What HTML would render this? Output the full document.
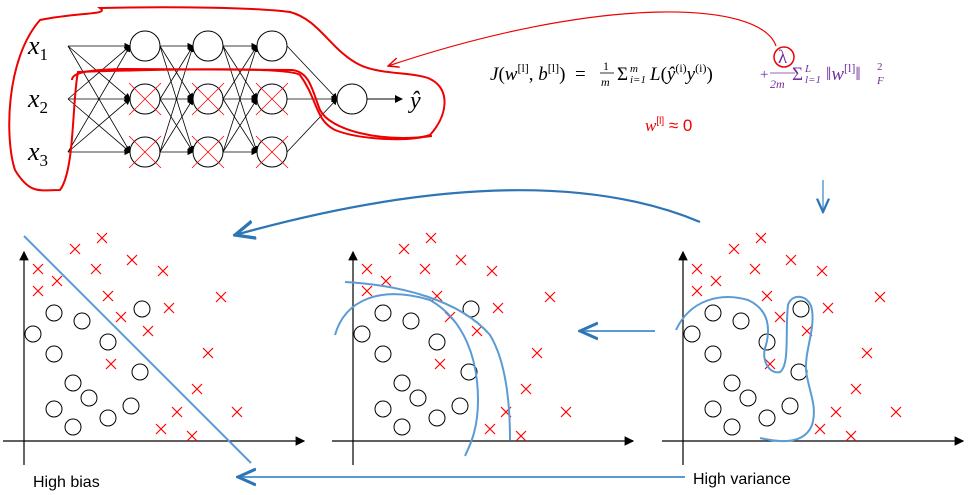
<!DOCTYPE html>
<html><head><meta charset="utf-8"><style>
body{margin:0;background:#fff;width:970px;height:495px;overflow:hidden}
svg{display:block;font-family:"Liberation Sans",sans-serif}
</style></head><body>
<svg id="s" width="970" height="495" viewBox="0 0 970 495">
<defs>
<marker id="ak" markerWidth="8" markerHeight="8" refX="7" refY="4" orient="auto"><path d="M0,0 L8,4 L0,8z" fill="#000"/></marker>
<marker id="ab" markerWidth="10" markerHeight="10" refX="9" refY="5" orient="auto"><path d="M0,1 L9,5 L0,9" fill="none" stroke="#2e75b6" stroke-width="1.5"/></marker>
<marker id="ar" markerWidth="10" markerHeight="10" refX="9" refY="5" orient="auto"><path d="M0,1 L9,5 L0,9" fill="none" stroke="#e00" stroke-width="1.2"/></marker>
</defs>
<g id="net"></g>
<path d="M40,20 C80,12 110,15 100,8 C180,6 260,8 290,12 C320,20 330,50 360,65 C380,75 420,72 432,80 C450,90 448,115 430,135 C410,142 360,140 335,130 C315,120 318,100 300,75 C290,68 200,68 78,72 C72,100 75,170 60,190 C40,190 30,195 15,170 C5,140 5,60 40,20Z" fill="none" stroke="#e00" stroke-width="2"/>
<g font-family="Liberation Serif,serif" font-size="19">
<text x="490" y="80"><tspan font-style="italic">J</tspan>(<tspan font-style="italic">w</tspan><tspan font-size="12" dy="-8">[l]</tspan><tspan dy="8">, </tspan><tspan font-style="italic">b</tspan><tspan font-size="12" dy="-8">[l]</tspan><tspan dy="8">)</tspan></text>
<text x="575" y="80">=</text>
<text x="603" y="70" font-size="12">1</text><line x1="600" y1="73" x2="614" y2="73" stroke="#000" stroke-width="0.8"/><text x="601" y="86" font-size="12" font-style="italic">m</text>
<text x="617" y="80">Σ</text><text x="630" y="72" font-size="11" font-style="italic">m</text><text x="630" y="83" font-size="11" font-style="italic">i=1</text>
<text x="650" y="80"><tspan font-style="italic">L</tspan>(<tspan font-style="italic">ŷ</tspan><tspan font-size="12" dy="-8">(i)</tspan><tspan dy="8" font-style="italic">y</tspan><tspan font-size="12" dy="-8">(i)</tspan><tspan dy="8">)</tspan></text>
</g>
<g font-family="Liberation Serif,serif" fill="#7030a0" font-size="19">
<text x="760" y="79" font-size="15">+</text>
<text x="778" y="63">λ</text>
<line x1="770" y1="73" x2="795" y2="73" stroke="#7030a0" stroke-width="0.8"/>
<text x="770" y="88" font-size="12" font-style="italic">2m</text>
<text x="792" y="80">Σ</text><text x="805" y="72" font-size="11" font-style="italic">L</text><text x="805" y="83" font-size="11" font-style="italic">l=1</text>
<text x="826" y="80">‖<tspan font-style="italic">w</tspan><tspan font-size="12" dy="-8">[l]</tspan><tspan dy="8">‖</tspan></text>
<text x="877" y="70" font-size="11">2</text><text x="877" y="84" font-size="11" font-style="italic">F</text>
</g>
<circle cx="784" cy="57" r="10" fill="none" stroke="#e00" stroke-width="1.5"/>
<text x="645" y="131" fill="#e00" font-size="17"><tspan font-family="Liberation Serif,serif" font-style="italic">w</tspan><tspan font-size="10" dy="-7">[l]</tspan><tspan dy="7"> ≈ 0</tspan></text>
<path d="M776,46 C760,0 600,-5 388,66" fill="none" stroke="#e00" stroke-width="1.2" marker-end="url(#ar)"/>
<path d="M700,222 C600,180 450,175 235,235" fill="none" stroke="#2e75b6" stroke-width="2.2" marker-end="url(#ab)"/>
<line x1="823" y1="180" x2="823" y2="212" stroke="#5b9bd5" stroke-width="1.5" marker-end="url(#ab)"/>
<line x1="655" y1="331" x2="580" y2="331" stroke="#5b9bd5" stroke-width="2" marker-end="url(#ab)"/>
<line x1="685" y1="477" x2="238" y2="477" stroke="#5b9bd5" stroke-width="2" marker-end="url(#ab)"/>
<text x="33" y="487" font-size="16">High bias</text>
<text x="693" y="484" font-size="16">High variance</text>
<g id="plots"></g>
<path d="M24,236 L251,463" stroke="#5b9bd5" stroke-width="2" fill="none"/>
<path d="M335,335 C345,300 380,285 430,300 C465,320 478,360 478,400 C478,430 470,445 465,456" stroke="#5b9bd5" stroke-width="2" fill="none"/>
<path d="M345,282 C400,285 460,300 490,335 C505,360 510,400 510,440" stroke="#5b9bd5" stroke-width="2" fill="none"/>
<path d="M676,330 C690,300 720,292 748,300 C770,310 770,330 766,345 C760,360 770,375 780,372 C790,365 785,330 788,305 C792,292 810,295 812,310 C815,330 805,350 806,370 C808,390 818,405 812,425 C806,440 790,445 760,438" stroke="#5b9bd5" stroke-width="2" fill="none"/>
</svg>
<script>
const NS="http://www.w3.org/2000/svg";
const circX=[54,82,33,108,54,142,140,73,89,131,54,108,73];
const circY=[313,321,334,342,354,309,372,383,398,406,409,418,427];
const crossX=[102,75,132,38,96,57,163,38,108,221,169,121,148,208,111,197,177,237,161,192];
const crossY=[238,249,260,269,269,281,271,291,296,297,308,317,331,353,364,389,412,412,429,436];
const plotOffsets=[0,329,659];
function mk(t,a,p){const e=document.createElementNS(NS,t);for(const k in a)e.setAttribute(k,a[k]);p.appendChild(e);return e;}
const P=document.getElementById('plots');
plotOffsets.forEach((o,pi)=>{
 const g=mk('g',{},P);
 
 
 const ya=mk('line',{x1:24+o,y1:465,x2:24+o,y2:252,stroke:'#000','stroke-width':1.2,'marker-end':'url(#ak)'},g);
 
 
 const xa=mk('line',{x1:3+o,y1:441,x2:304+o,y2:441,stroke:'#000','stroke-width':1.2,'marker-end':'url(#ak)'},g);
 
 
 circX.forEach((x,i)=>{const c=mk('circle',{cx:x+o,cy:circY[i],r:8,fill:'none',stroke:'#000','stroke-width':1},g);
  
  });
 crossX.forEach((x,i)=>{const y=crossY[i];const c=mk('path',{d:`M${x+o-5},${y-5}L${x+o+5},${y+5}M${x+o+5},${y-5}L${x+o-5},${y+5}`,stroke:'#f00','stroke-width':1.2},g);
  
  });
});
const N=document.getElementById('net');
const layerX=[145,208,272], rowY=[46,99,152];
rowY.forEach(y=>rowY.forEach(y2=>mk('line',{x1:68,y1:y,x2:145-15,y2:y2,stroke:'#000','stroke-width':0.8,'marker-end':'url(#ak)'},N)));
for(let l=0;l<2;l++)rowY.forEach(y=>rowY.forEach(y2=>mk('line',{x1:layerX[l]+15,y1:y,x2:layerX[l+1]-15,y2:y2,stroke:'#000','stroke-width':0.8,'marker-end':'url(#ak)'},N)));
rowY.forEach(y=>mk('line',{x1:287,y1:y,x2:337,y2:99,stroke:'#000','stroke-width':0.8,'marker-end':'url(#ak)'},N));
layerX.forEach(x=>rowY.forEach((y,r)=>{const c=mk('circle',{cx:x,cy:y,r:15,fill:'#fff',stroke:'#000','stroke-width':1},N);
 
 
 if(r>0)mk('path',{d:`M${x-16},${y-16}L${x+16},${y+16}M${x+16},${y-16}L${x-16},${y+16}`,stroke:'#f00','stroke-width':0.8},N);}));
const out=mk('circle',{cx:352,cy:99,r:15,fill:'#fff',stroke:'#000'},N);


mk('line',{x1:367,y1:99,x2:402,y2:99,stroke:'#000','marker-end':'url(#ak)'},N);
[['x',1,46],['x',2,99],['x',3,152]].forEach(([t,n,y])=>{const e=mk('text',{x:28,y:y+8,'font-family':'Liberation Serif,serif','font-style':'italic','font-size':26},N);e.textContent='x';const s=mk('tspan',{'font-size':17,'font-style':'normal',dy:6},e);s.textContent=n;
 
 });
const yh=mk('text',{x:410,y:108,'font-family':'Liberation Serif,serif','font-style':'italic','font-size':24},N);yh.textContent='ŷ';


mk('path',{d:'M72,80 C72,72 90,70 120,69 L292,70 C310,72 312,90 320,110 C330,130 380,143 432,136',fill:'none',stroke:'#e00','stroke-width':2},N);
</script>
</body></html>
